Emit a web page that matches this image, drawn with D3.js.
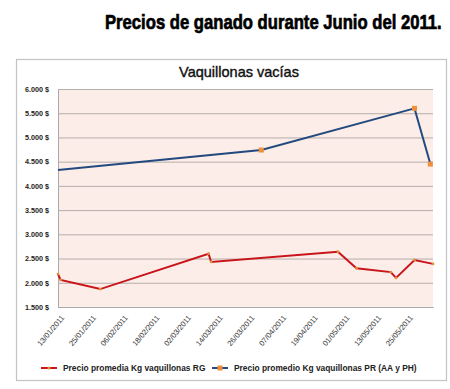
<!DOCTYPE html>
<html>
<head>
<meta charset="utf-8">
<script src="https://cdn.jsdelivr.net/npm/d3@7"></script>
<style>
  body { margin: 0; background: #fff; }
  svg { display: block; }
</style>
</head>
<body>
<div id="chart"></div>
<script>
// Data
var tickDates = ["2011-01-13", "2011-01-25", "2011-02-06", "2011-02-18", "2011-03-02", "2011-03-14",
                 "2011-03-26", "2011-04-07", "2011-04-19", "2011-05-01", "2011-05-13", "2011-05-25"];
var yTicks = [1500, 2000, 2500, 3000, 3500, 4000, 4500, 5000, 5500, 6000];

var rgDates = ["2011-01-13", "2011-01-14", "2011-01-29", "2011-03-11", "2011-03-12", "2011-04-29",
               "2011-05-06", "2011-05-19", "2011-05-21", "2011-05-28", "2011-06-04"];
var rgValues = [2180, 2060, 1870, 2600, 2430, 2640, 2300, 2220, 2100, 2470, 2390];

var prDates = ["2011-01-13", "2011-03-31", "2011-05-28", "2011-06-03"];
var prValues = [4330, 4740, 5600, 4450];

var seriesNames = ["Precio promedia Kg vaquillonas RG", "Precio promedio Kg vaquillonas PR (AA y PH)"];

var svgWidth = 450;
var svgHeight = 389;

// plot area
var plot = { left: 58, right: 433, top: 89, bottom: 307 };

var parse = d3.timeParse("%Y-%m-%d");
var fmtTick = d3.timeFormat("%d/%m/%Y");

var svg = d3.select("#chart")
    .append("svg")
    .attr("width", svgWidth)
    .attr("height", svgHeight);

// page title (condensed to fit width by horizontal scale)
var title = svg.append("text")
    .attr("x", 0)
    .attr("y", 0)
    .attr("font-family", "Liberation Sans, Arial, sans-serif")
    .attr("font-weight", "bold")
    .attr("font-size", 21)
    .attr("fill", "#000")
    .style("stroke", "#000")
    .style("stroke-width", 0.7)
    .text("Precios de ganado durante Junio del 2011.");
var tw = title.node().getComputedTextLength();
title.attr("transform", `translate(105,29) scale(${337 / tw},1)`);

// chart frame
svg.append("rect")
    .attr("x", 16.5)
    .attr("y", 59.5)
    .attr("width", 430)
    .attr("height", 321)
    .attr("fill", "#fff")
    .attr("stroke", "#c4c4c4")
    .attr("stroke-width", 1.2);

// chart title
svg.append("text")
    .attr("x", 239)
    .attr("y", 77)
    .attr("text-anchor", "middle")
    .attr("font-family", "Liberation Sans, Arial, sans-serif")
    .attr("font-size", 14.5)
    .attr("fill", "#111")
    .style("stroke", "#111")
    .style("stroke-width", 0.4)
    .text("Vaquillonas vacías");

// scales
var x = d3.scaleTime()
    .domain([parse("2011-01-13"), parse("2011-06-04")])
    .range([plot.left, plot.right]);

var y = d3.scaleLinear()
    .domain([1500, 6000])
    .range([plot.bottom, plot.top]);

// background
svg.append("rect")
    .attr("x", plot.left)
    .attr("y", plot.top)
    .attr("width", plot.right - plot.left)
    .attr("height", plot.bottom - plot.top)
    .attr("fill", "#fcede8");

// gridlines + y labels
var yAxis = d3.axisLeft(y)
    .tickValues(yTicks)
    .tickSize(-(plot.right - plot.left))
    .tickPadding(9)
    .tickFormat(d => d3.format(",")(d).replace(",", ".") + " $");

var yG = svg.append("g")
    .attr("transform", `translate(${plot.left},0)`)
    .call(yAxis);
yG.select(".domain").attr("stroke", "#aaa");
yG.selectAll(".tick line").attr("stroke", "#b5aeaa").attr("stroke-width", 1);
yG.selectAll(".tick text")
    .attr("font-family", "Liberation Sans, Arial, sans-serif")
    .attr("font-size", 7.2)
    .attr("font-weight", "bold")
    .attr("fill", "#222");

// x axis
var xAxis = d3.axisBottom(x)
    .tickValues(tickDates.map(parse))
    .tickSize(0)
    .tickFormat(fmtTick);

var xG = svg.append("g")
    .attr("transform", `translate(0,${plot.bottom})`)
    .call(xAxis);
xG.select(".domain").attr("stroke", "#aaa");
xG.selectAll(".tick text")
    .attr("font-family", "Liberation Sans, Arial, sans-serif")
    .attr("font-size", 7.6)
    .attr("fill", "#333")
    .attr("text-anchor", "end")
    .attr("dx", 0)
    .attr("dy", 0)
    .attr("transform", "translate(4,9) rotate(-50)");

// lines
var line = d3.line()
    .x(d => x(d.date))
    .y(d => y(d.value));

var rg = rgDates.map((d, i) => ({ date: parse(d), value: rgValues[i] }));
var pr = prDates.map((d, i) => ({ date: parse(d), value: prValues[i] }));

svg.append("path")
    .datum(pr)
    .attr("d", line)
    .attr("fill", "none")
    .attr("stroke", "#234a7e")
    .attr("stroke-width", 2);

svg.append("path")
    .datum(rg)
    .attr("d", line)
    .attr("fill", "none")
    .attr("stroke", "#c8141a")
    .attr("stroke-width", 2);

// markers
svg.selectAll(".rgm")
    .data(rg)
    .enter().append("circle")
    .attr("cx", d => x(d.date))
    .attr("cy", d => y(d.value))
    .attr("r", 1.4)
    .attr("fill", "#e0903c");

svg.selectAll(".prm")
    .data(pr.slice(1))
    .enter().append("rect")
    .attr("x", d => x(d.date) - 2.5)
    .attr("y", d => y(d.value) - 2.5)
    .attr("width", 5)
    .attr("height", 5)
    .attr("fill", "#ef8f3c");

// legend
var legend = [
    { x: 41, color: "#c8141a", marker: "dot", name: seriesNames[0] },
    { x: 212, color: "#234a7e", marker: "square", name: seriesNames[1] }
];
var lg = svg.selectAll(".lg")
    .data(legend)
    .enter().append("g")
    .attr("transform", d => `translate(${d.x},368)`);
lg.append("line")
    .attr("x1", 0).attr("x2", 16)
    .attr("stroke", d => d.color)
    .attr("stroke-width", 2);
lg.filter(d => d.marker === "dot").append("circle")
    .attr("cx", 8).attr("r", 1.5).attr("fill", "#e0903c");
lg.filter(d => d.marker === "square").append("rect")
    .attr("x", 5.5).attr("y", -2.5).attr("width", 5).attr("height", 5).attr("fill", "#ef8f3c");
lg.append("text")
    .attr("x", 22)
    .attr("y", 3)
    .attr("font-family", "Liberation Sans, Arial, sans-serif")
    .attr("font-size", 8.4)
    .attr("font-weight", "bold")
    .attr("fill", "#222")
    .text(d => d.name);
</script>
</body>
</html>
